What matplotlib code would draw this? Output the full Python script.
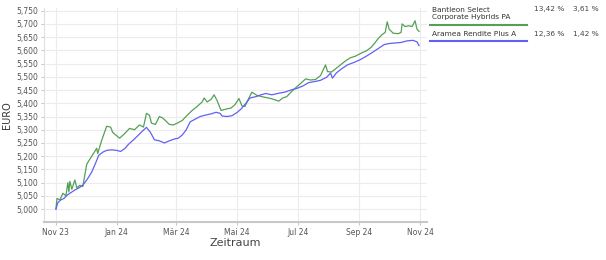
import matplotlib
matplotlib.use("Agg")
import matplotlib.pyplot as plt
import matplotlib.ticker as mticker
import pandas as pd

# Bantleon Select Corporate Hybrids PA (green)
green_dates = ["2023-11-01", "2023-11-02", "2023-11-05", "2023-11-08", "2023-11-11", "2023-11-13",
               "2023-11-14", "2023-11-15", "2023-11-17", "2023-11-20", "2023-11-22", "2023-11-25",
               "2023-11-28", "2023-12-02", "2023-12-07", "2023-12-12", "2023-12-13", "2023-12-17",
               "2023-12-22", "2023-12-26", "2023-12-28", "2024-01-04", "2024-01-09", "2024-01-14",
               "2024-01-19", "2024-01-24", "2024-01-28", "2024-01-31", "2024-02-03", "2024-02-05",
               "2024-02-09", "2024-02-13", "2024-02-16", "2024-02-19", "2024-02-23", "2024-02-27",
               "2024-03-02", "2024-03-07", "2024-03-12", "2024-03-17", "2024-03-21", "2024-03-24",
               "2024-03-27", "2024-03-29", "2024-04-01", "2024-04-05", "2024-04-08", "2024-04-11",
               "2024-04-15", "2024-04-20", "2024-04-25", "2024-04-29", "2024-05-03", "2024-05-06",
               "2024-05-09", "2024-05-13", "2024-05-16", "2024-05-21", "2024-05-26", "2024-05-30",
               "2024-06-04", "2024-06-09", "2024-06-12", "2024-06-16", "2024-06-20", "2024-06-25",
               "2024-06-30", "2024-07-04", "2024-07-09", "2024-07-14", "2024-07-19", "2024-07-24",
               "2024-07-29", "2024-07-31", "2024-08-04", "2024-08-08", "2024-08-13", "2024-08-18",
               "2024-08-23", "2024-08-28", "2024-09-03", "2024-09-08", "2024-09-13", "2024-09-17",
               "2024-09-20", "2024-09-24", "2024-09-27", "2024-09-29", "2024-10-01", "2024-10-05",
               "2024-10-10", "2024-10-13", "2024-10-14", "2024-10-17", "2024-10-21", "2024-10-24",
               "2024-10-27", "2024-10-29", "2024-10-31"]
green_vals = [5000, 5040, 5035, 5060, 5050, 5100, 5065, 5105, 5075, 5110, 5080, 5090,
              5085, 5170, 5200, 5230, 5210, 5260, 5313, 5310, 5290, 5268, 5285, 5305,
              5300, 5318, 5310, 5362, 5355, 5325, 5320, 5350, 5345, 5335, 5320, 5318,
              5325, 5335, 5355, 5373, 5385, 5395, 5405, 5420, 5405, 5415, 5432, 5410,
              5373, 5378, 5382, 5395, 5418, 5390, 5388, 5420, 5442, 5430, 5425, 5422,
              5418, 5412, 5408, 5420, 5425, 5445, 5462, 5475, 5492, 5488, 5490, 5505,
              5545, 5520, 5518, 5530, 5545, 5560, 5572, 5578, 5590, 5598, 5612, 5630,
              5645, 5660, 5668, 5708, 5680, 5665, 5663, 5668, 5700, 5690, 5693, 5690,
              5712, 5680, 5672]

# Aramea Rendite Plus A (blue)
blue_dates = ["2023-11-01", "2023-11-03", "2023-11-06", "2023-11-09", "2023-11-13", "2023-11-16",
              "2023-11-20", "2023-11-24", "2023-11-28", "2023-12-02", "2023-12-07", "2023-12-11",
              "2023-12-14", "2023-12-18", "2023-12-22", "2023-12-27", "2024-01-01", "2024-01-05",
              "2024-01-09", "2024-01-13", "2024-01-18", "2024-01-23", "2024-01-27", "2024-01-31",
              "2024-02-04", "2024-02-08", "2024-02-13", "2024-02-18", "2024-02-23", "2024-02-28",
              "2024-03-03", "2024-03-07", "2024-03-11", "2024-03-15", "2024-03-20", "2024-03-25",
              "2024-03-30", "2024-04-05", "2024-04-10", "2024-04-14", "2024-04-16", "2024-04-21",
              "2024-04-26", "2024-05-01", "2024-05-05", "2024-05-10", "2024-05-14", "2024-05-20",
              "2024-05-25", "2024-05-30", "2024-06-05", "2024-06-12", "2024-06-18", "2024-06-24",
              "2024-06-30", "2024-07-06", "2024-07-12", "2024-07-18", "2024-07-24", "2024-07-30",
              "2024-08-03", "2024-08-05", "2024-08-09", "2024-08-14", "2024-08-20", "2024-08-27",
              "2024-09-02", "2024-09-08", "2024-09-14", "2024-09-20", "2024-09-26", "2024-10-01",
              "2024-10-07", "2024-10-13", "2024-10-19", "2024-10-25", "2024-10-29", "2024-10-31"]
blue_vals = [5000, 5025, 5035, 5040, 5055, 5062, 5072, 5080, 5090, 5110, 5140, 5175,
             5203, 5215, 5222, 5224, 5222, 5218, 5228, 5245, 5262, 5280, 5295, 5309,
             5290, 5262, 5258, 5250, 5258, 5265, 5268, 5280, 5300, 5330, 5340, 5350,
             5355, 5360, 5366, 5362, 5352, 5350, 5353, 5365, 5378, 5400, 5420, 5425,
             5432, 5437, 5432, 5438, 5442, 5450, 5456, 5465, 5478, 5482, 5487, 5498,
             5514, 5495, 5515, 5530, 5545, 5555, 5565, 5578, 5592, 5607, 5622, 5626,
             5628, 5630, 5636, 5638, 5632, 5618]

names = ["Bantleon Select\nCorporate Hybrids PA", "Aramea Rendite Plus A"]
perf_total = ["13,42 %", "12,36 %"]
perf_ytd = ["3,61 %", "1,42 %"]
colors = ["#55a055", "#6060f5"]

tick_dates = ["2023-11-01", "2024-01-01", "2024-03-01", "2024-05-01", "2024-07-01", "2024-09-01", "2024-11-01"]
tick_labels = ["Nov 23", "Jan 24", "Mär 24", "Mai 24", "Jul 24", "Sep 24", "Nov 24"]

fig = plt.figure(figsize=(6.06, 2.6), dpi=100)
ax = fig.add_axes([0.0726, 0.146, 0.632, 0.823])

ax.plot(pd.to_datetime(green_dates), green_vals, color=colors[0], lw=0.9)
ax.plot(pd.to_datetime(blue_dates), blue_vals, color=colors[1], lw=0.9)

ax.set_xlim(pd.Timestamp("2023-10-20"), pd.Timestamp("2024-11-08"))
ax.set_ylim(4951, 5760)
ax.set_yticks(range(5000, 5751, 50))
ax.yaxis.set_major_formatter(mticker.FuncFormatter(lambda v, p: f"{int(v):,}"))
ax.set_xticks(pd.to_datetime(tick_dates))
ax.set_xticklabels(tick_labels)

ax.grid(True, color="#ececec", lw=0.8)
ax.set_axisbelow(True)
for s in ["top", "right"]:
    ax.spines[s].set_visible(False)
ax.spines["left"].set_color("#e0e0e0")
ax.spines["bottom"].set_color("#c8c8c8")
ax.spines["bottom"].set_linewidth(1.5)
ax.tick_params(axis="both", labelsize=5.5, colors="#555555", length=2, width=0.6, pad=2)
ax.tick_params(axis="both", color="#bbbbbb")
ax.set_ylabel("EURO", fontsize=7, color="#333333", labelpad=3)
ax.set_xlabel("Zeitraum", fontsize=8, color="#444444", labelpad=1)

# legend table on the right
rows_y = [0.975, 0.882]
line_y = [0.904, 0.842]
for i in range(2):
    fig.text(0.713, rows_y[i], names[i], fontsize=5.3, color="#333333", va="top", linespacing=1.35)
    fig.text(0.882, rows_y[i], perf_total[i], fontsize=5.3, color="#444444", va="top")
    fig.text(0.946, rows_y[i], perf_ytd[i], fontsize=5.3, color="#444444", va="top")
    fig.add_artist(plt.Line2D([0.71, 0.87], [line_y[i], line_y[i]], color=colors[i], lw=1.5,
                              transform=fig.transFigure))

fig.savefig("out.png", dpi=100)
